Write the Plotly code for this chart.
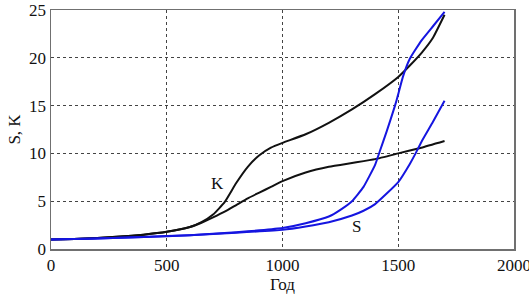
import plotly.graph_objects as go

# Year grid for each curve
k1_years = [0, 100, 200, 300, 400, 500, 600, 650, 700, 750, 800, 850, 900, 950, 1000,
            1100, 1200, 1300, 1400, 1500, 1550, 1600, 1650, 1700]
k1_vals = [1.0, 1.05, 1.15, 1.3, 1.5, 1.8, 2.3, 2.8, 3.6, 4.9, 6.9, 8.6, 9.8, 10.6, 11.1,
           12.0, 13.2, 14.6, 16.2, 18.0, 19.2, 20.5, 22.1, 24.5]

k2_years = [0, 100, 200, 300, 400, 500, 600, 650, 700, 750, 800, 850, 900, 950, 1000,
            1100, 1200, 1300, 1400, 1500, 1600, 1700]
k2_vals = [1.0, 1.05, 1.15, 1.3, 1.5, 1.8, 2.3, 2.75, 3.3, 3.9, 4.6, 5.3, 5.9, 6.5, 7.1,
           8.0, 8.6, 9.0, 9.4, 10.0, 10.6, 11.3]

s1_years = [0, 200, 400, 600, 800, 900, 1000, 1100, 1200, 1250, 1300, 1350, 1400, 1420,
            1450, 1486, 1500, 1520, 1550, 1600, 1650, 1700]
s1_vals = [1.0, 1.1, 1.25, 1.45, 1.75, 1.95, 2.2, 2.7, 3.4, 4.1, 5.0, 6.5, 8.8, 10.2,
           12.3, 15.0, 16.2, 18.0, 19.9, 21.8, 23.3, 24.8]

s2_years = [0, 200, 400, 600, 800, 1000, 1100, 1200, 1300, 1350, 1400, 1450, 1500, 1550,
            1575, 1600, 1650, 1700]
s2_vals = [1.0, 1.1, 1.25, 1.45, 1.7, 2.0, 2.35, 2.8, 3.5, 4.0, 4.7, 5.8, 7.0, 8.9,
           10.0, 11.2, 13.3, 15.5]

x_ticks = [0, 500, 1000, 1500, 2000]
y_ticks = [0, 5, 10, 15, 20, 25]

BLACK = "#111111"
BLUE = "#1515e0"
FONT = "Liberation Serif, DejaVu Serif, Times New Roman, serif"

fig = go.Figure()
for xs, ys, col in [(k1_years, k1_vals, BLACK), (k2_years, k2_vals, BLACK),
                    (s1_years, s1_vals, BLUE), (s2_years, s2_vals, BLUE)]:
    fig.add_trace(go.Scatter(x=xs, y=ys, mode="lines",
                             line=dict(color=col, width=2, shape="spline", smoothing=0.4),
                             showlegend=False, hoverinfo="skip"))

fig.add_annotation(x=720, y=6.8, text="K", showarrow=False,
                   font=dict(family=FONT, size=17, color="#111"))
fig.add_annotation(x=1320, y=2.4, text="S", showarrow=False,
                   font=dict(family=FONT, size=17, color="#111"))

axis_common = dict(
    showline=True, linecolor="#707070", linewidth=1.5, mirror=True,
    showgrid=True, gridcolor="#444444", gridwidth=1, griddash="3px,3px",
    zeroline=False, ticks="", automargin=False, ticklabeloverflow="allow",
    tickfont=dict(family=FONT, size=17, color="#111"),
)

fig.update_xaxes(range=[0, 2000], tickvals=x_ticks, ticktext=[str(v) for v in x_ticks],
                 title=dict(text="Год", font=dict(family=FONT, size=17, color="#111"), standoff=0),
                 **axis_common)
fig.update_yaxes(range=[0, 25], tickvals=y_ticks, ticktext=[str(v) for v in y_ticks],
                 title=dict(text="S, K", font=dict(family=FONT, size=17, color="#111"), standoff=4),
                 **axis_common)

fig.update_layout(
    width=529, height=298,
    margin=dict(l=51, r=15, t=10, b=49, autoexpand=False),
    plot_bgcolor="white", paper_bgcolor="white",
    font=dict(family=FONT),
)

fig.write_html("out.html", config={"displayModeBar": False, "staticPlot": True},
               post_script="document.body.style.margin='0';document.body.style.overflow='hidden';")
